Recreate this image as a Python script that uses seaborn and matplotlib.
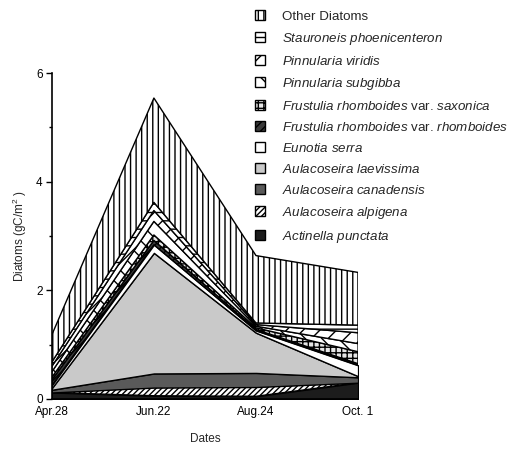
import matplotlib
matplotlib.use("Agg")
import matplotlib.pyplot as plt
from matplotlib.patches import Patch
from matplotlib.ticker import MultipleLocator
import seaborn as sns
import numpy as np

# Sampling dates
dates = ["Apr.28", "Jun.22", "Aug.24", "Oct. 1"]

# Biomass (gC/m2) of each taxon, bottom of the stack first
actinella_punctata = [0.12, 0.06, 0.05, 0.30]
aulacoseira_alpigena = [0.00, 0.15, 0.17, 0.00]
aulacoseira_canadensis = [0.05, 0.26, 0.26, 0.10]
aulacoseira_laevissima = [0.03, 2.22, 0.74, 0.02]
eunotia_serra = [0.05, 0.15, 0.04, 0.20]
frustulia_rhomboides = [0.10, 0.08, 0.02, 0.03]
frustulia_saxonica = [0.05, 0.10, 0.03, 0.22]
pinnularia_subgibba = [0.10, 0.25, 0.03, 0.15]
pinnularia_viridis = [0.10, 0.20, 0.03, 0.20]
stauroneis_phoenicenteron = [0.08, 0.15, 0.03, 0.14]
other_diatoms = [0.50, 1.92, 1.24, 0.97]

layers = [
    (actinella_punctata, r"$\it{Actinella\ punctata}$", "#1c1c1c", None),
    (aulacoseira_alpigena, r"$\it{Aulacoseira\ alpigena}$", "white", "//////"),
    (aulacoseira_canadensis, r"$\it{Aulacoseira\ canadensis}$", "#5a5a5a", None),
    (aulacoseira_laevissima, r"$\it{Aulacoseira\ laevissima}$", "#c9c9c9", None),
    (eunotia_serra, r"$\it{Eunotia\ serra}$", "white", None),
    (frustulia_rhomboides, r"$\it{Frustulia\ rhomboides}$ var. $\it{rhomboides}$", "#3a3a3a", "////"),
    (frustulia_saxonica, r"$\it{Frustulia\ rhomboides}$ var. $\it{saxonica}$", "#e6e6e6", "+++"),
    (pinnularia_subgibba, r"$\it{Pinnularia\ subgibba}$", "white", "\\\\"),
    (pinnularia_viridis, r"$\it{Pinnularia\ viridis}$", "white", "//"),
    (stauroneis_phoenicenteron, r"$\it{Stauroneis\ phoenicenteron}$", "white", "--"),
    (other_diatoms, "Other Diatoms", "white", "|||"),
]

sns.set_theme(style="ticks")
plt.rcParams["font.family"] = ["Liberation Sans", "DejaVu Sans"]
plt.rcParams["mathtext.fontset"] = "custom"
plt.rcParams["mathtext.rm"] = "Liberation Sans"
plt.rcParams["mathtext.it"] = "Liberation Sans:italic"
plt.rcParams["hatch.linewidth"] = 1.0

fig = plt.figure(figsize=(5.13, 4.51), dpi=100)
ax = fig.add_axes([0.101, 0.1153, 0.597, 0.7227])

x = np.arange(len(dates))
base = np.zeros(len(dates))
handles = []
for values, label, color, hatch in layers:
    top = base + np.asarray(values)
    ax.fill_between(x, base, top, facecolor=color, edgecolor="black",
                    hatch=hatch, linewidth=1.0)
    handles.append(Patch(facecolor=color, edgecolor="black", hatch=hatch,
                         linewidth=1.0, label=label))
    base = top

ax.set_xlim(0, len(dates) - 1)
ax.set_ylim(0, 6)
ax.set_xticks(x)
ax.set_xticklabels(dates)
ax.set_yticks([0, 2, 4, 6])
ax.yaxis.set_minor_locator(MultipleLocator(1))
ax.tick_params(axis="x", length=0, pad=5, labelsize=8.5, colors="black")
ax.tick_params(axis="y", which="major", length=4.5, width=1, pad=2,
               labelsize=8.5, colors="black")
ax.tick_params(axis="y", which="minor", length=2.5, width=1, colors="black")
ax.set_xlabel("Dates", fontsize=8.5, labelpad=11)
ax.set_ylabel("Diatoms (gC/m$^2$ )", fontsize=8.5, labelpad=5)
sns.despine(ax=ax)
for side in ("left", "bottom"):
    ax.spines[side].set_color("black")
    ax.spines[side].set_linewidth(1.2)

fig.legend(handles=handles[::-1], loc="upper left",
           bbox_to_anchor=(0.492, 0.983), frameon=False, fontsize=9.6,
           handlelength=0.75, handleheight=0.75, handletextpad=1.25,
           labelspacing=0.6, borderpad=0.2, borderaxespad=0)

fig.savefig("out.png", dpi=100, facecolor="white")
